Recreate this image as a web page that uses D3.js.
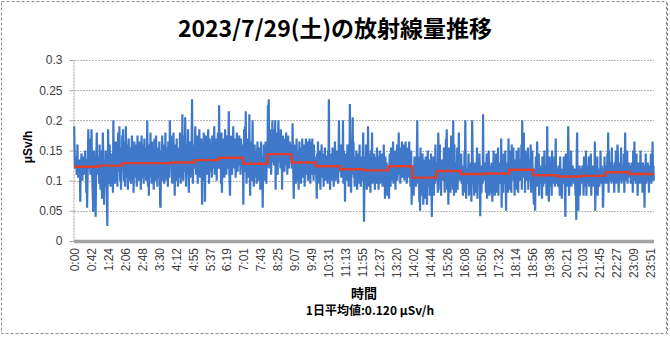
<!DOCTYPE html>
<html>
<head>
<meta charset="utf-8">
<script src="https://cdn.jsdelivr.net/npm/d3@7"></script>
<style>
  body { margin: 0; background: #fff; }
  svg { display: block; }
</style>
</head>
<body>
<svg id="chart" width="670" height="337"></svg>
<script>
// ---------- data ----------
const chartTitle = "2023/7/29(土)の放射線量推移";
const yAxisTitle = "μSv/h";
const xAxisTitle = "時間";
const dailyAverageText = "1日平均値:0.120 μSv/h";
const yTickValues = [0, 0.05, 0.1, 0.15, 0.2, 0.25, 0.3];
const xTickLabels = ["0:00","0:42","1:24","2:06","2:48","3:30","4:12","4:55","5:37","6:19",
  "7:01","7:43","8:25","9:07","9:49","10:31","11:13","11:55","12:37","13:20","14:02","14:44",
  "15:26","16:08","16:50","17:32","18:14","18:56","19:38","20:21","21:03","21:45","22:27",
  "23:09","23:51"];
const missingMinutes = ["4:30", "13:00", "20:00"];
// hourly averages (red step line), μSv/h
const hourlyAverage = [0.123,0.125,0.129,0.129,0.130,0.134,0.138,0.128,0.144,0.130,0.124,0.119,
  0.117,0.124,0.105,0.116,0.111,0.112,0.118,0.109,0.107,0.108,0.114,0.111];
// per-minute dose rate, thousandths of μSv/h, one row per hour
const doseByHour = [
[190,150,120,130,130,140,110,125,160,120,105,120,115,135,130,65,110,125,145,130,100,115,120,140,110,125,125,150,130,135,80,115,55,100,140,185,130,125,120,170,110,115,140,185,125,100,75,48,110,150,130,120,120,40,95,145,180,115,130,130],
[110,140,95,160,120,85,135,150,105,70,125,180,140,100,60,115,130,90,150,120,105,75,25,110,185,140,95,130,160,115,90,125,145,100,135,120,80,200,150,110,130,95,140,165,120,100,135,90,150,180,115,125,190,140,100,130,85,155,120,175],
[150,185,120,100,165,135,90,140,190,125,105,160,130,85,145,170,115,100,135,155,120,95,140,175,130,110,150,80,125,165,140,105,130,160,115,90,145,175,125,100,135,165,110,150,120,85,140,175,130,105,160,125,95,145,170,115,130,155,100,140],
[130,200,115,90,150,75,135,160,120,180,105,140,95,165,125,110,150,85,130,170,120,100,145,175,115,135,90,155,125,105,140,165,110,60,55,130,150,120,175,100,135,115,160,95,145,125,180,110,140,100,155,130,90,165,120,145,105,200,130,150],
[175,140,120,95,165,130,180,110,145,75,125,160,100,135,170,115,150,90,140,125,155,105,180,130,95,145,165,120,210,135,100,150,115,175,125,205,140,90,160,130,110,145,185,120,80,150,135,165,105,140,125,170,235,150,95,135,160,120,145],
[150,190,130,110,165,140,175,95,135,160,120,185,145,105,155,130,170,115,60,140,165,125,180,100,145,65,135,175,120,155,110,160,140,185,125,95,150,170,115,140,160,130,105,175,145,120,165,135,190,110,150,125,170,140,100,155,135,180,120,145],
[225,150,120,165,135,95,180,80,125,160,115,170,140,105,155,185,130,150,110,175,135,120,165,145,215,130,100,75,140,175,125,150,110,165,140,190,120,155,135,170,145,105,160,130,180,150,115,165,140,125,175,135,155,110,170,140,120,160,145,130],
[60,140,185,115,190,125,215,135,95,155,120,170,105,145,130,210,110,75,150,125,165,100,135,200,115,145,90,130,160,120,105,150,125,95,140,165,115,135,100,155,120,145,85,130,165,110,140,125,55,120,135,160,100,145,115,165,125,95,140,120],
[150,225,135,235,160,120,185,145,175,110,165,140,200,130,155,185,125,170,145,200,85,160,180,135,150,110,165,200,140,175,130,155,120,185,145,165,85,150,175,130,160,140,115,170,150,135,180,125,160,110,145,175,130,155,120,165,140,150,135,160],
[140,120,195,150,105,70,130,160,115,145,95,135,170,120,100,150,125,85,140,165,110,130,155,95,145,120,170,105,135,115,160,125,90,145,130,170,110,140,120,165,100,135,150,115,170,125,95,145,165,110,130,170,120,145,100,160,125,140,110,135],
[130,100,70,145,120,165,110,135,95,150,125,85,140,115,160,105,130,120,145,90,135,110,155,125,100,140,140,115,130,95,150,120,235,105,135,85,125,145,110,130,100,155,120,135,90,145,115,165,125,100,140,120,150,105,130,95,145,200,115,135],
[120,160,120,105,115,140,115,200,95,150,110,125,65,145,120,100,130,135,160,135,110,90,140,120,227,150,125,80,135,110,145,205,120,165,105,130,90,140,115,100,150,125,85,135,110,145,95,120,160,105,130,90,140,115,125,100,150,180,110,32],
[95,120,140,100,160,115,85,135,105,190,125,90,145,110,130,80,150,105,120,180,95,135,115,100,145,125,85,140,110,130,95,155,120,100,140,85,125,110,150,95,130,115,105,145,120,90,135,110,160,100,125,70,140,115,95,130,105,75,120,110],
[105,70,130,145,115,90,155,125,100,140,120,165,95,135,110,150,125,85,145,115,130,160,100,140,120,180,110,135,155,95,125,145,115,165,130,105,150,120,160,100,140,125,165,115,135,95,155,120,145,105,130,165,110,140,90,125,150,60,120],
[95,120,120,75,110,140,110,100,135,90,115,150,200,105,120,95,140,65,110,50,155,75,120,105,90,145,100,60,115,135,95,110,70,140,100,120,60,105,150,90,115,100,135,75,110,95,145,105,40,90,120,100,140,75,115,105,95,160,110,100],
[130,125,105,80,180,150,100,115,160,85,120,75,135,110,110,110,125,100,155,115,80,130,105,170,120,185,85,110,135,60,125,155,100,115,80,130,175,105,120,150,85,200,125,75,160,115,100,130,80,120,110,155,85,125,105,180,115,135,100,120],
[110,145,95,120,120,75,105,125,80,150,115,200,130,70,120,105,110,95,115,145,75,110,125,100,80,130,65,115,200,150,95,120,110,75,130,100,115,80,125,105,155,70,115,100,120,95,145,110,41,100,125,80,115,105,95,210,120,100,110,130],
[100,125,80,115,145,70,110,120,95,150,105,75,125,100,115,80,130,110,65,120,105,150,95,115,75,125,100,145,110,80,120,105,155,75,115,100,130,95,120,110,170,55,125,100,115,80,145,105,120,95,150,110,50,125,100,115,130,80,170,110],
[120,85,150,110,125,80,160,105,130,115,155,100,120,75,135,110,125,85,150,115,105,130,80,155,120,110,135,100,125,115,160,85,200,120,105,135,180,110,125,80,150,115,100,130,120,105,155,85,125,110,135,100,120,160,80,125,110,150,100,120],
[75,60,120,100,50,115,140,95,110,165,90,120,105,145,75,110,125,100,110,95,115,70,140,105,90,120,110,150,95,115,100,125,75,110,190,95,120,100,65,115,140,90,110,105,125,75,150,100,115,95,120,105,140,90,110,170,100,120,95,115],
[105,90,125,100,115,75,140,95,110,120,70,105,95,115,95,140,100,125,75,40,145,95,105,120,90,115,190,140,75,110,95,120,105,150,90,115,100,125,110,100,95,110,120,100,75,115,35,140,180,105,120,50,110,100,125,75,115,105,120],
[110,95,125,100,115,75,140,105,90,120,100,150,75,110,125,95,115,105,140,90,120,100,110,145,75,115,95,125,105,110,90,120,100,165,50,115,95,125,105,140,75,110,100,120,90,115,105,150,95,110,125,100,115,55,75,120,100,140,95,110],
[120,105,125,95,145,110,180,80,150,105,115,130,100,120,95,155,110,125,100,100,115,80,130,105,120,150,95,115,125,160,145,110,80,120,105,130,100,115,155,95,125,110,105,100,120,145,80,115,180,130,100,125,110,150,95,115,105,130,110,120],
[110,125,95,115,130,100,120,80,150,105,115,165,100,125,95,110,145,105,120,75,115,130,100,110,125,95,150,105,115,100,120,80,130,110,105,125,55,115,100,145,95,110,120,100,130,105,115,80,125,110,100,120,145,95,115,105,165,110,125,100]
];

// ---------- build series ----------
const times = [];
for (let m = 0; m < 1440; m++) {
  const t = `${Math.floor(m / 60)}:${String(m % 60).padStart(2, "0")}`;
  if (!missingMinutes.includes(t)) times.push({ minute: m, label: t });
}
const values = doseByHour.flat().map(v => v / 1000);
const N = Math.min(times.length, values.length);
const points = d3.range(N).map(i => ({
  i,
  v: values[i],
  avg: hourlyAverage[Math.floor(times[i].minute / 60)]
}));

// ---------- layout ----------
const svg = d3.select("#chart");
const W = 670, H = 337;
const plot = { left: 74, right: 654, top: 60, bottom: 241 };

const x = d3.scaleLinear().domain([0, N]).range([plot.left, plot.right]);
const y = d3.scaleLinear().domain([0, 0.3]).range([plot.bottom, plot.top]);

svg.append("rect").attr("width", W).attr("height", H).attr("fill", "#fff");

// outer chart border
svg.append("rect")
  .attr("x", 1.5).attr("y", 1.5).attr("width", 665).attr("height", 332)
  .attr("fill", "none").attr("stroke", "#8c8c8c").attr("stroke-width", 1)
  .attr("stroke-dasharray", "3,2");
svg.append("line")
  .attr("x1", 667.5).attr("x2", 667.5).attr("y1", 3).attr("y2", 334)
  .attr("stroke", "#8c8c8c").attr("stroke-width", 1).attr("stroke-dasharray", "3,2");

// title
svg.append("text")
  .attr("x", 335).attr("y", 37)
  .attr("text-anchor", "middle")
  .attr("font-family", "'Noto Sans CJK JP', sans-serif")
  .attr("font-weight", "bold").attr("font-size", 23).attr("fill", "#000")
  .text(chartTitle);

// gridlines
svg.append("g").selectAll("line")
  .data(yTickValues.filter(d => d > 0))
  .join("line")
  .attr("x1", plot.left).attr("x2", plot.right)
  .attr("y1", d => Math.round(y(d)) + 0.5).attr("y2", d => Math.round(y(d)) + 0.5)
  .attr("stroke", "#b4b4b4").attr("stroke-width", 1).attr("stroke-dasharray", "2,1");

// y axis
const yAxis = svg.append("g")
  .attr("transform", `translate(${plot.left - 0.5},0)`)
  .call(d3.axisLeft(y).tickValues(yTickValues).tickSize(4).tickSizeOuter(0)
    .tickFormat(d => String(+d.toFixed(2))));
yAxis.select(".domain").attr("stroke", "#a0a0a0").attr("stroke-dasharray", "2,1");
yAxis.selectAll(".tick line").attr("stroke", "#a0a0a0");
yAxis.selectAll("text")
  .attr("font-family", "'Liberation Sans', Arial, sans-serif")
  .attr("font-size", 12).attr("fill", "#404040").attr("x", -11);

// blue per-minute line
svg.append("path")
  .datum(points)
  .attr("fill", "none")
  .attr("stroke", "#3f78c8")
  .attr("stroke-width", 2.2)
  .attr("stroke-linejoin", "miter")
  .attr("d", d3.line().x(d => x(d.i + 0.5)).y(d => y(d.v)));

// red hourly average line
svg.append("path")
  .datum(points)
  .attr("fill", "none")
  .attr("stroke", "#e03e2c")
  .attr("stroke-width", 2.4)
  .attr("d", d3.line().x(d => x(d.i + 0.5)).y(d => y(d.avg)));

// x axis
const labelIndex = xTickLabels.map(l => times.findIndex(t => t.label === l));
const xAxis = svg.append("g")
  .attr("transform", `translate(0,${plot.bottom})`)
  .call(d3.axisBottom(x).tickValues(labelIndex.map(i => i + 0.5)).tickSize(0)
    .tickFormat((d, k) => xTickLabels[k]));
xAxis.select(".domain").remove();
xAxis.insert("line", ":first-child")
  .attr("x1", plot.left).attr("x2", plot.right).attr("y1", 0.5).attr("y2", 0.5)
  .attr("stroke", "#a3a3a3").attr("stroke-width", 3.5);
xAxis.selectAll("text")
  .attr("font-family", "'Liberation Sans', Arial, sans-serif")
  .attr("font-size", 12).attr("fill", "#404040")
  .attr("transform", "rotate(-90)")
  .attr("text-anchor", "end")
  .attr("x", -7).attr("y", 0).attr("dy", "0.35em");

// axis titles
svg.append("text")
  .attr("transform", "translate(32,147) rotate(-90)")
  .attr("text-anchor", "middle")
  .attr("font-family", "'Liberation Sans', Arial, sans-serif")
  .attr("font-weight", "bold").attr("font-size", 12).attr("fill", "#000")
  .text(yAxisTitle);

svg.append("text")
  .attr("x", 364).attr("y", 298)
  .attr("text-anchor", "middle")
  .attr("font-family", "'Noto Sans CJK JP', sans-serif")
  .attr("font-weight", "bold").attr("font-size", 13).attr("fill", "#000")
  .text(xAxisTitle);

svg.append("text")
  .attr("x", 370).attr("y", 315)
  .attr("text-anchor", "middle")
  .attr("font-family", "'Noto Sans CJK JP', sans-serif")
  .attr("font-weight", "bold").attr("font-size", 12).attr("fill", "#000")
  .text(dailyAverageText);
</script>
</body>
</html>
